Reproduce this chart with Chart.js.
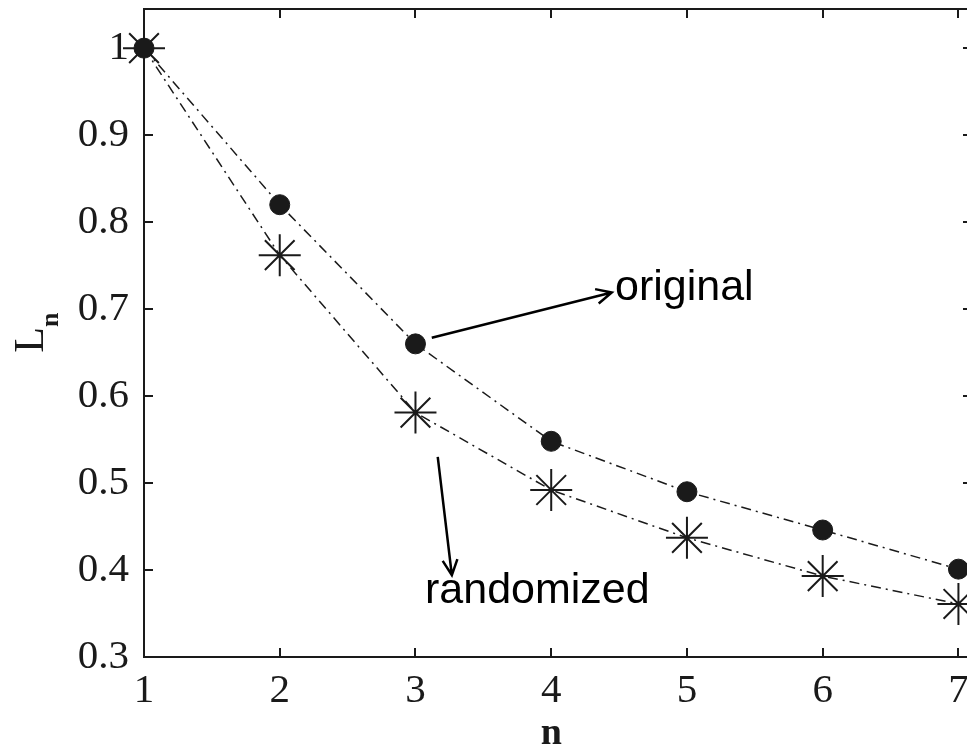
<!DOCTYPE html>
<html>
<head>
<meta charset="utf-8">
<script src="https://cdn.jsdelivr.net/npm/chart.js@4.4.1/dist/chart.umd.min.js"></script>
<style>
  html, body { margin: 0; padding: 0; background: #fff; overflow: hidden; }
  #wrap { position: relative; width: 980px; height: 749px; }
</style>
</head>
<body>
<div id="wrap"><canvas id="lnChart" width="980" height="749"></canvas></div>
<script>
// ── Data ───────────────────────────────────────────────────────
const nValues = [1, 2, 3, 4, 5, 6, 7];
const originalL = [1.0, 0.82, 0.66, 0.548, 0.490, 0.446, 0.401];
const randomizedL = [1.0, 0.762, 0.581, 0.492, 0.437, 0.393, 0.361];
const xTicks = [1, 2, 3, 4, 5, 6, 7];
const yTicks = [0.3, 0.4, 0.5, 0.6, 0.7, 0.8, 0.9, 1.0];
const yTickLabels = ['0.3', '0.4', '0.5', '0.6', '0.7', '0.8', '0.9', '1'];

// arrow callouts, in data units
const callouts = [
  { text: 'original',   from: [3.12, 0.667], to: [4.446, 0.719], at: [4.47, 0.711] },
  { text: 'randomized', from: [3.164, 0.530], to: [3.268, 0.394], at: [3.07, 0.362] }
];

const INK = '#1a1a1a';
const SERIF = "'Liberation Serif', 'DejaVu Serif', serif";
const SANS = "'Liberation Sans', Arial, sans-serif";

// ── Box + inward ticks (MATLAB style) ──────────────────────────
const framePlugin = {
  id: 'frame',
  beforeDatasetsDraw(chart) {
    const { ctx, chartArea: a, scales: { x, y } } = chart;
    const tl = 9;
    ctx.save();
    ctx.strokeStyle = INK;
    ctx.lineWidth = 2;
    ctx.strokeRect(a.left, a.top, a.right - a.left, a.bottom - a.top);
    ctx.beginPath();
    xTicks.forEach(v => {
      const px = Math.round(x.getPixelForValue(v));
      ctx.moveTo(px, a.bottom); ctx.lineTo(px, a.bottom - tl);
      ctx.moveTo(px, a.top); ctx.lineTo(px, a.top + tl);
    });
    yTicks.forEach(v => {
      const py = Math.round(y.getPixelForValue(v));
      ctx.moveTo(a.left, py); ctx.lineTo(a.left + tl, py);
      ctx.moveTo(a.right, py); ctx.lineTo(a.right - tl, py);
    });
    ctx.stroke();
    ctx.restore();
  }
};

function arrowHead(ctx, x0, y0, x1, y1, len, spread) {
  const ang = Math.atan2(y1 - y0, x1 - x0);
  ctx.moveTo(x1 - len * Math.cos(ang - spread), y1 - len * Math.sin(ang - spread));
  ctx.lineTo(x1, y1);
  ctx.lineTo(x1 - len * Math.cos(ang + spread), y1 - len * Math.sin(ang + spread));
}

// ── Axis titles + callouts ─────────────────────────────────────
const labelPlugin = {
  id: 'labels',
  afterDraw(chart) {
    const { ctx, scales: { x, y } } = chart;
    ctx.save();
    ctx.fillStyle = INK;

    // y title: L with subscript n, rotated
    ctx.save();
    ctx.translate(43, 340);
    ctx.rotate(-Math.PI / 2);
    ctx.textBaseline = 'alphabetic';
    ctx.textAlign = 'center';
    ctx.font = '42px ' + SERIF;
    ctx.fillText('L', 0, 0);
    ctx.textAlign = 'left';
    ctx.font = 'bold 26px ' + SERIF;
    ctx.fillText('n', 13, 15);
    ctx.restore();

    // x title
    ctx.textAlign = 'center';
    ctx.textBaseline = 'alphabetic';
    ctx.font = 'bold 38px ' + SERIF;
    ctx.fillText('n', x.getPixelForValue(4), 744);

    // callouts
    ctx.strokeStyle = '#000';
    ctx.fillStyle = '#000';
    ctx.lineWidth = 2.5;
    ctx.font = '43px ' + SANS;
    ctx.textAlign = 'left';
    callouts.forEach(c => {
      const x0 = x.getPixelForValue(c.from[0]), y0 = y.getPixelForValue(c.from[1]);
      const x1 = x.getPixelForValue(c.to[0]), y1 = y.getPixelForValue(c.to[1]);
      ctx.beginPath();
      ctx.moveTo(x0, y0); ctx.lineTo(x1, y1);
      arrowHead(ctx, x0, y0, x1, y1, 17, 0.45);
      ctx.stroke();
      ctx.fillText(c.text, x.getPixelForValue(c.at[0]), y.getPixelForValue(c.at[1]));
    });
    ctx.restore();
  }
};

const lineStyle = {
  borderColor: INK,
  borderWidth: 1.5,
  borderDash: [10, 5, 2, 5],
  pointBorderColor: INK,
  tension: 0,
  fill: false,
  clip: false
};

new Chart(document.getElementById('lnChart'), {
  type: 'line',
  data: {
    datasets: [
      { ...lineStyle, label: 'original',
        data: nValues.map((n, i) => ({ x: n, y: originalL[i] })),
        pointStyle: 'circle', pointRadius: 10, pointBackgroundColor: INK, pointBorderWidth: 1 },
      { ...lineStyle, label: 'randomized',
        data: nValues.map((n, i) => ({ x: n, y: randomizedL[i] })),
        pointStyle: 'star', pointRadius: 21, pointBackgroundColor: INK, pointBorderWidth: 2 }
    ]
  },
  options: {
    responsive: false, maintainAspectRatio: false, animation: false, devicePixelRatio: 1,
    layout: { autoPadding: false, padding: { top: 9, right: 8, left: 0, bottom: 0 } },
    plugins: { legend: { display: false }, tooltip: { enabled: false } },
    scales: {
      x: {
        type: 'linear', min: 1, max: 7.1,
        afterBuildTicks: s => { s.ticks = xTicks.map(v => ({ value: v })); },
        afterFit: s => { s.height = 92; s.paddingLeft = 0; s.paddingRight = 0; },
        grid: { display: false }, border: { display: false },
        ticks: { color: INK, font: { family: SERIF, size: 41 }, padding: 2, maxRotation: 0, autoSkip: false,
                 callback: v => String(v) }
      },
      y: {
        type: 'linear', min: 0.3, max: 1.045,
        afterBuildTicks: s => { s.ticks = yTicks.map(v => ({ value: v })); },
        afterFit: s => { s.width = 144; s.paddingTop = 0; s.paddingBottom = 0; },
        grid: { display: false }, border: { display: false },
        ticks: { color: INK, font: { family: SERIF, size: 41 }, padding: 7, autoSkip: false,
                 callback: (v, i) => yTickLabels[i] }
      }
    }
  },
  plugins: [framePlugin, labelPlugin]
});
</script>
</body>
</html>
